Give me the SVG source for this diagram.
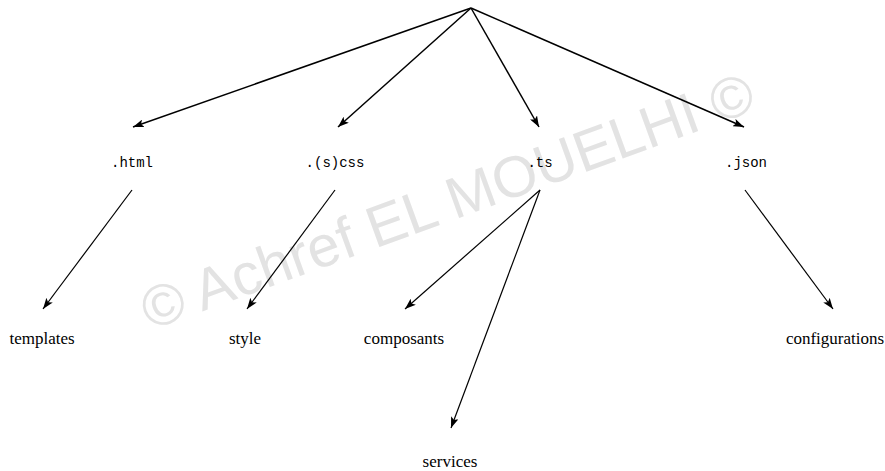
<svg xmlns="http://www.w3.org/2000/svg" width="885" height="471" viewBox="0 0 885 471">
  <style>
    .mono { font-family: "Liberation Mono", "DejaVu Sans Mono", monospace; font-size: 14px; fill: #000; text-anchor: middle; }
    .serif { font-family: "Liberation Serif", "DejaVu Serif", serif; font-size: 17px; fill: #000; text-anchor: middle; }
    .wm { font-family: "Liberation Sans", Arial, sans-serif; font-size: 58px; fill: #e3e3e3; text-anchor: middle; }
    .e1 { stroke: #000; stroke-width: 1.5; fill: none; marker-end: url(#arr); }
    .e2 { stroke: #000; stroke-width: 1.2; fill: none; marker-end: url(#arr); }
  </style>
  <defs>
    <marker id="arr" markerUnits="userSpaceOnUse" markerWidth="12" markerHeight="8" viewBox="0 0 12 8" refX="11" refY="4" orient="auto">
      <path d="M0,0 L11,4 L0,8 L2.5,4 z" fill="#000"/>
    </marker>
  </defs>
  <rect width="885" height="471" fill="#fff"/>
  <g id="watermark">
    <text class="wm" transform="translate(447,200) rotate(-20)" x="0" y="21">© Achref EL MOUELHI ©</text>
  </g>
  <g id="connectors">
    <line class="e1" x1="471" y1="8" x2="133" y2="127"/>
    <line class="e1" x1="471" y1="8" x2="338" y2="127"/>
    <line class="e1" x1="471" y1="8" x2="539" y2="127"/>
    <line class="e1" x1="471" y1="8" x2="744" y2="127"/>
    <line class="e2" x1="132" y1="190" x2="43" y2="309"/>
    <line class="e2" x1="335" y1="190" x2="247" y2="309"/>
    <line class="e2" x1="540" y1="190" x2="405" y2="309"/>
    <line class="e2" x1="540" y1="190" x2="451" y2="428"/>
    <line class="e2" x1="745" y1="190" x2="833" y2="309"/>
  </g>
  <g id="n-html"><text class="mono" x="132" y="167">.html</text></g>
  <g id="n-css"><text class="mono" x="335" y="167">.(s)css</text></g>
  <g id="n-ts"><text class="mono" x="540" y="167">.ts</text></g>
  <g id="n-json"><text class="mono" x="746" y="167">.json</text></g>
  <g id="n-templates"><text class="serif" x="42" y="344">templates</text></g>
  <g id="n-style"><text class="serif" x="245" y="344">style</text></g>
  <g id="n-composants"><text class="serif" x="404" y="344">composants</text></g>
  <g id="n-services"><text class="serif" x="450" y="467">services</text></g>
  <g id="n-configurations"><text class="serif" x="835" y="344">configurations</text></g>
</svg>
